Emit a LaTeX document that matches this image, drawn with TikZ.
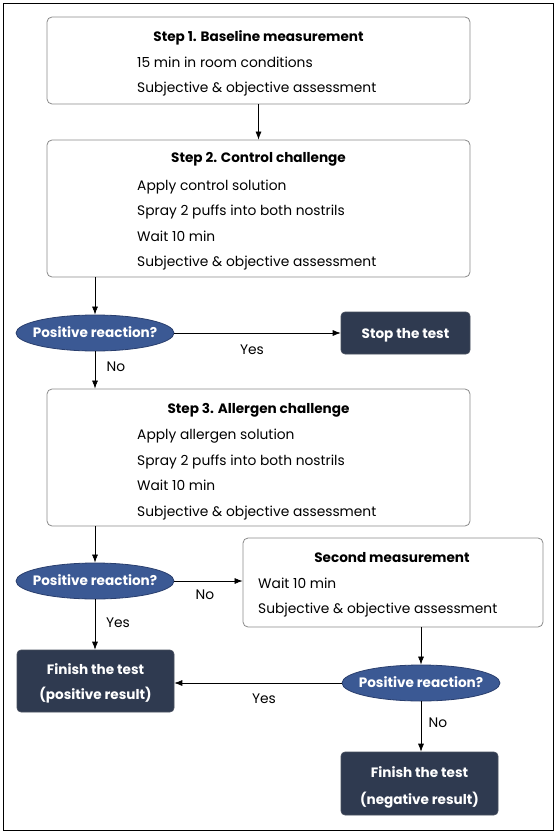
\documentclass[tikz,border=0pt]{standalone}
\usepackage{fontspec}
\setmainfont{Poppins}
\usetikzlibrary{arrows.meta,shapes.geometric}
\definecolor{boxgray}{HTML}{8A8A8A}
\definecolor{ellblue}{HTML}{3B5994}
\definecolor{ellborder}{HTML}{2A3F6E}
\definecolor{darkbox}{HTML}{2F3A50}
\begin{document}
\begin{tikzpicture}[x=1pt,y=-1pt,
  every node/.style={font=\fontsize{13.8}{16}\selectfont},
  box/.style={draw=boxgray, line width=0.8pt, rounded corners=5pt, fill=white, inner sep=0pt},
  ttl/.style={font=\fontsize{13.6}{16}\selectfont\bfseries, inner sep=0pt, text height=11.5pt, text depth=1.5pt},
  ln/.style={anchor=west, inner sep=0pt, text height=12pt, text depth=1pt},
  ques/.style={ellipse, draw=ellborder, line width=0.8pt, fill=ellblue, inner sep=0pt, minimum width=158pt, minimum height=36pt},
  qtxt/.style={text=white, inner sep=0pt, text height=10.5pt, text depth=2.5pt, font=\fontsize{13.6}{16}\selectfont\bfseries},
  term/.style={draw=darkbox!70!gray, line width=0.6pt, rounded corners=4pt, fill=darkbox, inner sep=0pt},
  ttxt/.style={text=white, inner sep=0pt, text height=11.5pt, text depth=1.5pt, font=\fontsize{13.6}{16}\selectfont\bfseries},
  arr/.style={-{Latex[length=8pt,width=6pt]}, line width=0.7pt},
  lbl/.style={inner sep=0pt, text height=12pt, text depth=1pt}
]
\useasboundingbox (0,0) rectangle (559,834);
\node[draw, line width=0.8pt, minimum width=550pt, minimum height=827pt, inner sep=0pt] (frame) at (278.5,416.5) {};

% Step 1
\node[box, minimum width=423pt, minimum height=87pt] (b1) at (258.5,60.5) {};
\node[ttl] (b1t) at (258.5,37) {Step 1. Baseline measurement};
\node[ln] (b1a) at (137,62) {15 min in room conditions};
\node[ln] (b1b) at (137,87) {Subjective \& objective assessment};

% Step 2
\node[box, minimum width=423pt, minimum height=137pt] (b2) at (258.5,208.5) {};
\node[ttl] (b2t) at (258.5,158) {Step 2. Control challenge};
\node[ln] (b2a) at (137,185) {Apply control solution};
\node[ln] (b2b) at (137,210) {Spray 2 puffs into both nostrils};
\node[ln] (b2c) at (137,236) {Wait 10 min};
\node[ln] (b2d) at (137,261) {Subjective \& objective assessment};

% Question 1
\node[ques] (q1) at (95,333) {};
\node[qtxt] (q1t) at (q1.center) {Positive reaction?};
\node[term, minimum width=129pt, minimum height=42pt] (stop) at (405.5,333) {};
\node[ttxt] (stopt) at (stop.center) {Stop the test};

% Step 3
\node[box, minimum width=423pt, minimum height=137pt] (b3) at (258.5,457.5) {};
\node[ttl] (b3t) at (258.5,408) {Step 3. Allergen challenge};
\node[ln] (b3a) at (137,434) {Apply allergen solution};
\node[ln] (b3b) at (137,460) {Spray 2 puffs into both nostrils};
\node[ln] (b3c) at (137,485) {Wait 10 min};
\node[ln] (b3d) at (137,511) {Subjective \& objective assessment};

% Question 2
\node[ques] (q2) at (95,581) {};
\node[qtxt] (q2t) at (q2.center) {Positive reaction?};

% Second measurement
\node[box, minimum width=300pt, minimum height=89pt] (sm) at (393,582.5) {};
\node[ttl] (smt) at (392,557) {Second measurement};
\node[ln] (sma) at (258,583) {Wait 10 min};
\node[ln] (smb) at (258,608) {Subjective \& objective assessment};

% Finish positive
\node[term, minimum width=157pt, minimum height=62pt] (fp) at (95.5,681) {};
\node[ttxt] (fp1) at (95.5,669) {Finish the test};
\node[ttxt] (fp2) at (95.5,694) {(positive result)};

% Question 3
\node[ques] (q3) at (421,683) {};
\node[qtxt] (q3t) at (q3.center) {Positive reaction?};

% Finish negative
\node[term, minimum width=157pt, minimum height=63pt] (fn) at (419.5,783.5) {};
\node[ttxt] (fn1) at (419.5,772) {Finish the test};
\node[ttxt] (fn2) at (419.5,799) {(negative result)};

% connectors
\draw[arr] (b1.south -| b1t) -- (b2.north -| b1t);
\draw[arr] (b2.south -| q1) -- (q1.north);
\draw[arr] (q1.east) -- (stop.west);
\node[lbl] (yes1) at (252,349) {Yes};
\draw[arr] (q1.south) -- (b3.north -| q1);
\node[lbl] (no1) at (116,366) {No};
\draw[arr] (b3.south -| q2) -- (q2.north);
\draw[arr] (q2.east) -- (sm.west |- q2);
\node[lbl] (no2) at (205,594) {No};
\draw[arr] (q2.south) -- (fp.north -| q2);
\node[lbl] (yes2) at (118,622) {Yes};
\draw[arr] (sm.south -| q3) -- (q3.north);
\draw[arr] (q3.west) -- (fp.east |- q3);
\node[lbl] (yes3) at (264,698) {Yes};
\draw[arr] (q3.south) -- (fn.north -| q3);
\node[lbl] (no3) at (438,722) {No};
\end{tikzpicture}
\end{document}
